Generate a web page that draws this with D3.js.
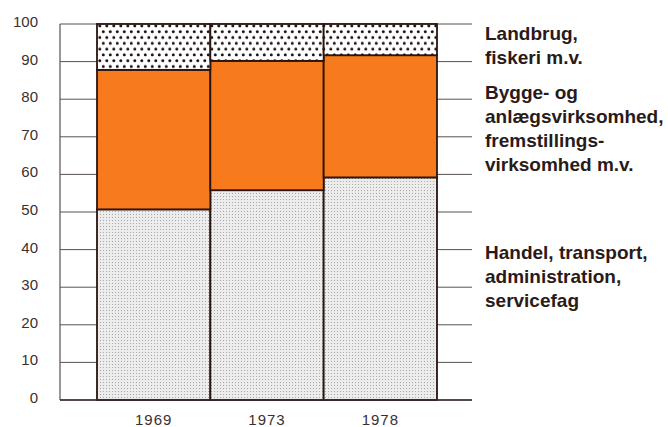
<!DOCTYPE html>
<html>
<head>
<script src="https://cdn.jsdelivr.net/npm/d3@7"></script>
<style>
  body { margin: 0; background: #fff; }
  text { font-family: "Liberation Sans", Arial, sans-serif; }
</style>
</head>
<body>
<div id="chart"></div>
<script>
// data (percent of employed)
const years = ["1969", "1973", "1978"];
const services = [50.7, 55.8, 59.2];     // Handel, transport, administration, servicefag
const industry = [37.1, 34.4, 32.5];     // Bygge- og anlægsvirksomhed, fremstillingsvirksomhed
const farming  = [12.2, 9.8, 8.3];       // Landbrug, fiskeri m.v.
const yTicks = [0, 10, 20, 30, 40, 50, 60, 70, 80, 90, 100];

const labelLines = [
  { lines: ["Landbrug,", "fiskeri m.v."], y: 40 },
  { lines: ["Bygge- og", "anlægsvirksomhed,", "fremstillings-", "virksomhed m.v."], y: 99 },
  { lines: ["Handel, transport,", "administration,", "servicefag"], y: 259 }
];

const width = 668, height = 427;
const mLeft = 60, mRight = 472, mTop = 24, mBottom = 400;
const barsLeft = 97, barsRight = 437;

const svg = d3.select("#chart").append("svg")
  .attr("width", width).attr("height", height);

const defs = svg.append("defs");
// coarse black dots on white
const pDots = defs.append("pattern").attr("id", "dots")
  .attr("patternUnits", "userSpaceOnUse").attr("width", 7).attr("height", 11.6);
pDots.append("rect").attr("width", 7).attr("height", 11.6).attr("fill", "#fff");
pDots.append("circle").attr("cx", 1.8).attr("cy", 2.6).attr("r", 1.5).attr("fill", "#1a1010");
pDots.append("circle").attr("cx", 5.3).attr("cy", 8.4).attr("r", 1.5).attr("fill", "#1a1010");
// fine grey stipple
const pFine = defs.append("pattern").attr("id", "fine")
  .attr("patternUnits", "userSpaceOnUse").attr("width", 3).attr("height", 3);
pFine.append("rect").attr("width", 3).attr("height", 3).attr("fill", "#ececec");
pFine.append("rect").attr("x", 1).attr("y", 1).attr("width", 1).attr("height", 1).attr("fill", "#a8a8a8");

const y = d3.scaleLinear().domain([0, 100]).range([mBottom, mTop]);
const x = d3.scaleBand().domain(years).range([barsLeft, barsRight]).padding(0);

// gridlines on both sides of the bars
svg.append("g").selectAll("line").data(yTicks).join("line")
  .attr("x1", mLeft).attr("x2", mRight)
  .attr("y1", d => y(d)).attr("y2", d => y(d))
  .attr("stroke", "#5a5050").attr("stroke-width", 1);

// left axis line
svg.append("line").attr("x1", mLeft).attr("x2", mLeft)
  .attr("y1", y(100)).attr("y2", y(0))
  .attr("stroke", "#5a5050").attr("stroke-width", 1.2);

// stacked bars
const series = d3.stack().keys(["services", "industry", "farming"])(
  years.map((yr, i) => ({ year: yr, services: services[i], industry: industry[i], farming: farming[i] }))
);
const fills = { services: "url(#fine)", industry: "#f77b1c", farming: "url(#dots)" };

svg.append("g").selectAll("g").data(series).join("g")
  .attr("fill", d => fills[d.key])
  .selectAll("rect").data(d => d).join("rect")
  .attr("x", d => x(d.data.year))
  .attr("width", x.bandwidth())
  .attr("y", d => y(d[1]))
  .attr("height", d => y(d[0]) - y(d[1]))
  .attr("stroke", "#2a1410").attr("stroke-width", 1.8);

// baseline
svg.append("line").attr("x1", mLeft).attr("x2", mRight)
  .attr("y1", y(0)).attr("y2", y(0))
  .attr("stroke", "#3a2a2a").attr("stroke-width", 1.5);

// y tick labels
svg.append("g").selectAll("text").data(yTicks).join("text")
  .attr("x", 38).attr("y", d => y(d)).attr("dy", "0.2em")
  .attr("text-anchor", "end")
  .attr("font-size", 15).attr("fill", "#3a3030")
  .text(d => d);

// x labels
svg.append("g").selectAll("text").data(years).join("text")
  .attr("x", d => x(d) + x.bandwidth() / 2)
  .attr("y", 425)
  .attr("text-anchor", "middle")
  .attr("font-size", 15).attr("letter-spacing", 1).attr("fill", "#3a3030")
  .text(d => d);

// category labels on the right
labelLines.forEach(g => {
  const t = svg.append("text")
    .attr("font-size", 19).attr("font-weight", "bold").attr("fill", "#2a1a18");
  g.lines.forEach((ln, i) => {
    t.append("tspan").attr("x", 485).attr("y", g.y + i * 24).text(ln);
  });
});
</script>
</body>
</html>
